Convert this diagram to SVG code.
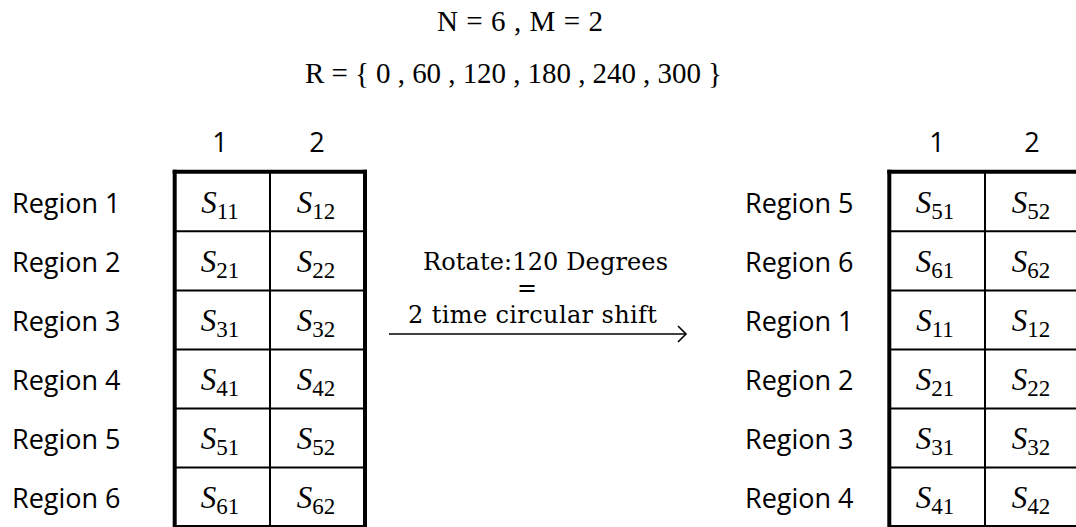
<svg xmlns="http://www.w3.org/2000/svg" width="1076" height="527" viewBox="0 0 1076 527">
<defs>
<style>
.lbl{font-family:"Open Sans","Liberation Sans",sans-serif;font-size:27px;fill:#000}
.hdr{font-family:"Open Sans","Liberation Sans",sans-serif;font-size:27px;fill:#000;text-anchor:middle}
.eq{font-family:"Liberation Serif",serif;font-size:29px;fill:#000}
.mid{font-family:"DejaVu Serif","Liberation Serif",serif;font-size:24px;fill:#000}
.cell{font-family:"Liberation Serif",serif;font-size:31px;fill:#000;text-anchor:middle}
.cell .s{font-style:italic}
.cell .sub{font-size:23px}
.thick{stroke:#000;stroke-width:4;fill:none}
.thin{stroke:#000;stroke-width:2;fill:none}
.conn{stroke:#000;stroke-width:1.4;fill:none}
</style>
<marker id="arr" markerWidth="12" markerHeight="20" refX="9" refY="10" orient="auto" markerUnits="userSpaceOnUse">
<path d="M1,2 L9,10 L1,18" stroke="#000" stroke-width="1.6" fill="none"/>
</marker>
</defs>
<rect width="1076" height="527" fill="#fff"/>

<g id="params">
<text class="eq" x="437" y="31" textLength="166" lengthAdjust="spacing">N = 6 , M = 2</text>
<text class="eq" x="305" y="83" textLength="417" lengthAdjust="spacing">R = { 0 , 60 , 120 , 180 , 240 , 300 }</text>
</g>

<g id="left-table">
<text class="hdr" x="220" y="152">1</text>
<text class="hdr" x="317" y="152">2</text>
<g class="rows">
<text class="lbl" x="12" y="213">Region 1</text>
<text class="lbl" x="12" y="272">Region 2</text>
<text class="lbl" x="12" y="331">Region 3</text>
<text class="lbl" x="12" y="390">Region 4</text>
<text class="lbl" x="12" y="449">Region 5</text>
<text class="lbl" x="12" y="508">Region 6</text>
</g>
<g class="grid">
<line class="thin" x1="175" y1="231.3" x2="365" y2="231.3"/>
<line class="thin" x1="175" y1="290.5" x2="365" y2="290.5"/>
<line class="thin" x1="175" y1="349.6" x2="365" y2="349.6"/>
<line class="thin" x1="175" y1="408.6" x2="365" y2="408.6"/>
<line class="thin" x1="175" y1="467.5" x2="365" y2="467.5"/>
<line class="thin" x1="175" y1="526" x2="365" y2="526"/>
<line class="thin" x1="270" y1="172" x2="270" y2="527"/>
<line class="thick" x1="174.7" y1="169.7" x2="174.7" y2="527"/>
<line class="thick" x1="365" y1="169.7" x2="365" y2="527"/>
<line class="thick" x1="172.7" y1="171.7" x2="367" y2="171.7"/>
</g>
<text class="cell" x="220" y="213"><tspan class="s">S</tspan><tspan class="sub" dy="6">11</tspan></text>
<text class="cell" x="316" y="213"><tspan class="s">S</tspan><tspan class="sub" dy="6">12</tspan></text>
<text class="cell" x="220" y="272"><tspan class="s">S</tspan><tspan class="sub" dy="6">21</tspan></text>
<text class="cell" x="316" y="272"><tspan class="s">S</tspan><tspan class="sub" dy="6">22</tspan></text>
<text class="cell" x="220" y="331"><tspan class="s">S</tspan><tspan class="sub" dy="6">31</tspan></text>
<text class="cell" x="316" y="331"><tspan class="s">S</tspan><tspan class="sub" dy="6">32</tspan></text>
<text class="cell" x="220" y="390"><tspan class="s">S</tspan><tspan class="sub" dy="6">41</tspan></text>
<text class="cell" x="316" y="390"><tspan class="s">S</tspan><tspan class="sub" dy="6">42</tspan></text>
<text class="cell" x="220" y="449"><tspan class="s">S</tspan><tspan class="sub" dy="6">51</tspan></text>
<text class="cell" x="316" y="449"><tspan class="s">S</tspan><tspan class="sub" dy="6">52</tspan></text>
<text class="cell" x="220" y="508"><tspan class="s">S</tspan><tspan class="sub" dy="6">61</tspan></text>
<text class="cell" x="316" y="508"><tspan class="s">S</tspan><tspan class="sub" dy="6">62</tspan></text>
</g>

<g id="right-table">
<text class="hdr" x="937" y="152">1</text>
<text class="hdr" x="1032" y="152">2</text>
<g class="rows">
<text class="lbl" x="745" y="213">Region 5</text>
<text class="lbl" x="745" y="272">Region 6</text>
<text class="lbl" x="745" y="331">Region 1</text>
<text class="lbl" x="745" y="390">Region 2</text>
<text class="lbl" x="745" y="449">Region 3</text>
<text class="lbl" x="745" y="508">Region 4</text>
</g>
<g class="grid">
<line class="thin" x1="890" y1="231.3" x2="1076" y2="231.3"/>
<line class="thin" x1="890" y1="290.5" x2="1076" y2="290.5"/>
<line class="thin" x1="890" y1="349.6" x2="1076" y2="349.6"/>
<line class="thin" x1="890" y1="408.6" x2="1076" y2="408.6"/>
<line class="thin" x1="890" y1="467.5" x2="1076" y2="467.5"/>
<line class="thin" x1="890" y1="526" x2="1076" y2="526"/>
<line class="thin" x1="985" y1="172" x2="985" y2="527"/>
<line class="thick" x1="889.3" y1="169.7" x2="889.3" y2="527"/>
<line class="thick" x1="887.3" y1="171.7" x2="1076" y2="171.7"/>
</g>
<text class="cell" x="935" y="213"><tspan class="s">S</tspan><tspan class="sub" dy="6">51</tspan></text>
<text class="cell" x="1031" y="213"><tspan class="s">S</tspan><tspan class="sub" dy="6">52</tspan></text>
<text class="cell" x="935" y="272"><tspan class="s">S</tspan><tspan class="sub" dy="6">61</tspan></text>
<text class="cell" x="1031" y="272"><tspan class="s">S</tspan><tspan class="sub" dy="6">62</tspan></text>
<text class="cell" x="935" y="331"><tspan class="s">S</tspan><tspan class="sub" dy="6">11</tspan></text>
<text class="cell" x="1031" y="331"><tspan class="s">S</tspan><tspan class="sub" dy="6">12</tspan></text>
<text class="cell" x="935" y="390"><tspan class="s">S</tspan><tspan class="sub" dy="6">21</tspan></text>
<text class="cell" x="1031" y="390"><tspan class="s">S</tspan><tspan class="sub" dy="6">22</tspan></text>
<text class="cell" x="935" y="449"><tspan class="s">S</tspan><tspan class="sub" dy="6">31</tspan></text>
<text class="cell" x="1031" y="449"><tspan class="s">S</tspan><tspan class="sub" dy="6">32</tspan></text>
<text class="cell" x="935" y="508"><tspan class="s">S</tspan><tspan class="sub" dy="6">41</tspan></text>
<text class="cell" x="1031" y="508"><tspan class="s">S</tspan><tspan class="sub" dy="6">42</tspan></text>
</g>

<g id="connectors">
<line class="conn" x1="389" y1="334" x2="686" y2="334" marker-end="url(#arr)"/>
<g id="arrow-label">
<text class="mid" x="423" y="270" textLength="245" lengthAdjust="spacing">Rotate:120 Degrees</text>
<text class="mid" x="517" y="295.5" font-size="18" textLength="20" lengthAdjust="spacingAndGlyphs">=</text>
<text class="mid" x="408" y="322.5" textLength="249" lengthAdjust="spacing">2 time circular shift</text>
</g>
</g>
</svg>
